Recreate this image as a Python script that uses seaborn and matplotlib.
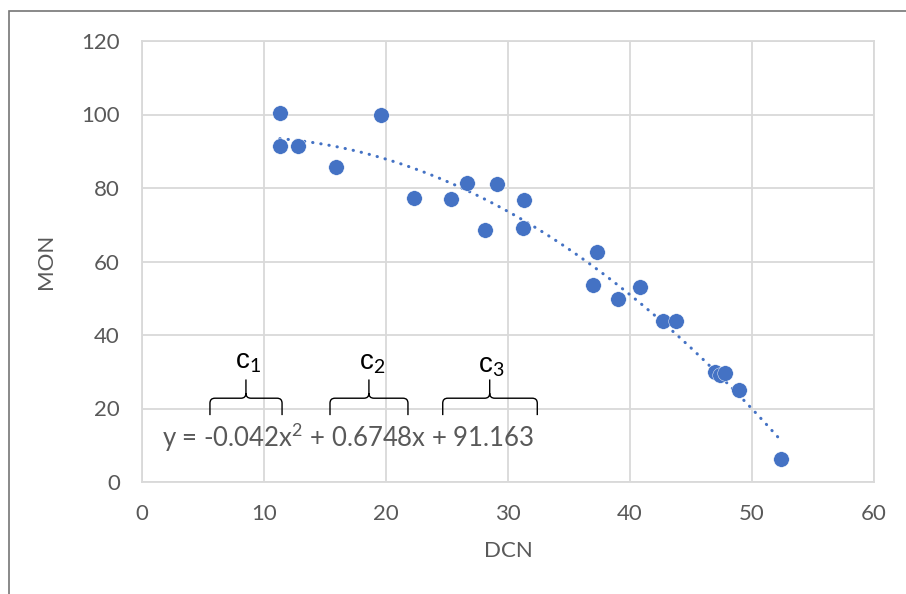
import numpy as np
import pandas as pd
import matplotlib
matplotlib.use("Agg")
import matplotlib.pyplot as plt
from matplotlib.path import Path
from matplotlib.patches import PathPatch, Rectangle
import seaborn as sns

# Observations
dcn = [11.3, 11.3, 12.8, 15.9, 19.6, 22.3, 25.3, 26.6, 29.1, 28.1, 31.3, 31.2,
       37.3, 37.0, 39.0, 40.8, 42.7, 43.8, 47.0, 47.4, 47.8, 48.9, 52.4]
mon = [100.3, 91.4, 91.3, 85.6, 100.0, 77.2, 76.9, 81.3, 81.2, 68.7, 76.6, 69.0,
       62.5, 53.5, 49.7, 53.0, 43.8, 43.7, 29.9, 29.0, 29.6, 25.0, 6.2]

# Quadratic trend coefficients (a*x^2 + b*x + c)
coef_a, coef_b, coef_c = -0.042, 0.6748, 91.163
equation_label = r"y = -0.042x$^{2}$ + 0.6748x + 91.163"

x_ticks = [0, 10, 20, 30, 40, 50, 60]
y_ticks = [0, 20, 40, 60, 80, 100, 120]

df = pd.DataFrame({"DCN": dcn, "MON": mon})

sns.set_theme(style="white")
plt.rcParams["font.family"] = ["Lato", "DejaVu Sans"]
plt.rcParams["mathtext.fontset"] = "custom"
plt.rcParams["mathtext.rm"] = "Liberation Sans"
plt.rcParams["mathtext.it"] = "Liberation Sans"
plt.rcParams["mathtext.default"] = "regular"

W, H = 906, 594
fig = plt.figure(figsize=(W / 100, H / 100), dpi=100)
ax = fig.add_axes([142 / W, 1 - 482 / H, (874 - 142) / W, (482 - 41) / H])

grid_col = "#D9D9D9"
text_col = "#595959"
blue = "#4472C4"

ax.set_xlim(0, 60)
ax.set_ylim(0, 120)
ax.set_xticks(x_ticks)
ax.set_yticks(y_ticks)
ax.grid(True, color=grid_col, linewidth=1.3)
ax.set_axisbelow(True)
for sp in ax.spines.values():
    sp.set_color(grid_col)
    sp.set_linewidth(1.3)
ax.tick_params(length=0, labelsize=16, labelcolor=text_col, pad=16)

# Trend line over the observed range
xs = np.linspace(min(dcn), max(dcn), 200)
ys = coef_a * xs ** 2 + coef_b * xs + coef_c
ax.plot(xs, ys, color=blue, linewidth=2.2, linestyle=(0, (0.1, 2.6)),
        dash_capstyle="round", zorder=2)

sns.scatterplot(data=df, x="DCN", y="MON", ax=ax, color=blue, s=125,
                edgecolor="white", linewidth=0.3, zorder=3, legend=False)

ax.set_xlabel("DCN", fontsize=16, color=text_col, labelpad=12)
ax.set_ylabel("MON", fontsize=16, color=text_col, labelpad=18)

ax.text(1.64, 12.2, equation_label, fontsize=18.5, color=text_col,
        ha="left", va="center")


def brace(ax, x0, x1, xt, yb=18.2, yh=22.8, ytop=27.9, rx=0.41, ry=1.36):
    verts = [
        (x0, yb), (x0, yh - ry), (x0, yh), (x0 + rx, yh),
        (xt - rx, yh), (xt, yh), (xt, yh + ry), (xt, ytop),
        (xt, yh + ry), (xt, yh), (xt + rx, yh),
        (x1 - rx, yh), (x1, yh), (x1, yh - ry), (x1, yb),
    ]
    codes = [
        Path.MOVETO, Path.LINETO, Path.CURVE3, Path.CURVE3,
        Path.LINETO, Path.CURVE3, Path.CURVE3, Path.LINETO,
        Path.MOVETO, Path.CURVE3, Path.CURVE3,
        Path.LINETO, Path.CURVE3, Path.CURVE3, Path.LINETO,
    ]
    ax.add_patch(PathPatch(Path(verts, codes), fill=False, edgecolor="black",
                           linewidth=1.0, zorder=4))


brace(ax, 5.57, 11.48, 8.52)
brace(ax, 15.41, 21.8, 18.6)
brace(ax, 24.65, 32.4, 28.5)

for i, (xc, yc) in enumerate([(8.69, 32.6), (18.83, 32.4), (28.66, 31.6)], 1):
    ax.text(xc, yc, r"$\mathrm{c}_{%d}$" % i, fontsize=20, color="black",
            ha="center", va="center")

# Chart frame
fig.patches.append(Rectangle((8.5 / W, -0.1), 1.2, (1 - 10.7 / H) + 0.1,
                             transform=fig.transFigure, fill=False,
                             edgecolor="#767676", linewidth=1.2))

fig.savefig("out.png", dpi=100)
